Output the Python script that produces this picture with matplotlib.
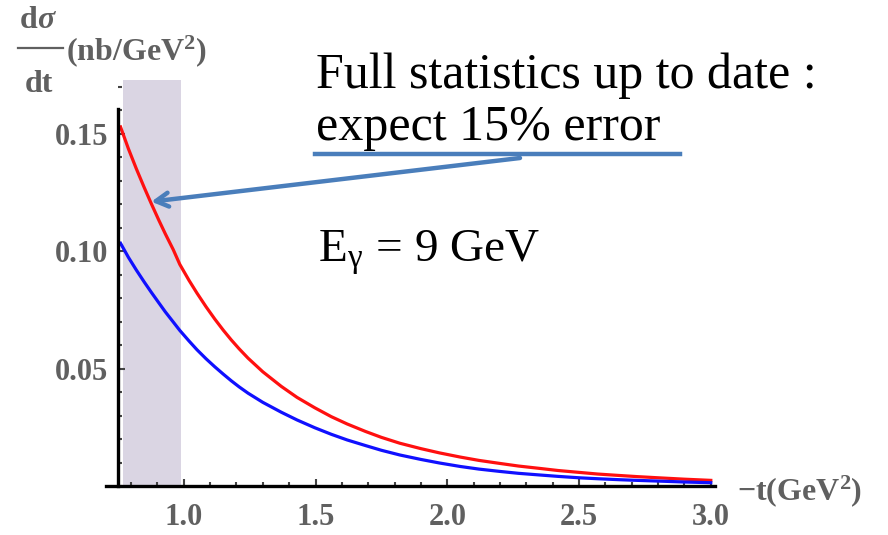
import matplotlib.pyplot as plt
from matplotlib.ticker import MultipleLocator, FixedLocator
from matplotlib.lines import Line2D

plt.rcParams['mathtext.fontset'] = 'custom'
plt.rcParams['mathtext.rm'] = 'Liberation Serif'
plt.rcParams['mathtext.it'] = 'Liberation Serif:italic'
plt.rcParams['mathtext.bf'] = 'Liberation Serif:bold'

# -t (GeV^2) and dsigma/dt (nb/GeV^2) for the two model curves
t_vals = [0.76, 0.79, 0.82, 0.85, 0.877, 0.905, 0.93, 0.96, 0.985, 1.02, 1.05,
          1.085, 1.118, 1.15, 1.18, 1.21, 1.244, 1.3, 1.37, 1.43, 1.497, 1.56,
          1.62, 1.69, 1.75, 1.82, 1.9, 1.97, 2.05, 2.12, 2.2, 2.27, 2.35, 2.42,
          2.5, 2.57, 2.65, 2.72, 2.8, 2.9, 3.0]
sig_red = [0.153, 0.1437, 0.1352, 0.1272, 0.1203, 0.1134, 0.1075, 0.1008, 0.0945, 0.0877, 0.0823,
           0.0764, 0.0712, 0.0665, 0.0624, 0.0586, 0.0546, 0.0488, 0.0426, 0.0379, 0.0335, 0.0297,
           0.0266, 0.0234, 0.0209, 0.0184, 0.0161, 0.0143, 0.0125, 0.0111, 0.0098, 0.0087,
           0.0077, 0.0068, 0.0060, 0.0053, 0.0047, 0.0042, 0.0037, 0.0031, 0.0026]
sig_blue = [0.1035, 0.0975, 0.0921, 0.0870, 0.0826, 0.0782, 0.0743, 0.0700, 0.0664, 0.0619, 0.0582,
            0.0543, 0.0509, 0.0478, 0.0450, 0.0424, 0.0397, 0.0358, 0.0316, 0.0283, 0.0250, 0.0222,
            0.0198, 0.0174, 0.0154, 0.0134, 0.0115, 0.0100, 0.0085, 0.0074, 0.0064, 0.0056,
            0.0049, 0.0043, 0.0037, 0.0033, 0.0029, 0.0026, 0.0023, 0.0019, 0.0016]

# measured -t window
band = [0.768, 0.99]
band_top = 0.173

xticks = [1.0, 1.5, 2.0, 2.5, 3.0]
yticks = [0.05, 0.10, 0.15]

gray = '#606060'
serif = 'Liberation Serif'

fig = plt.figure(figsize=(8.88, 5.35), dpi=100)
ax = fig.add_axes([0.1194, 0.0907, 0.6914, 0.7687])
ax.set_xlim(0.705, 3.035)
ax.set_ylim(0, 0.175)

ax.axvspan(band[0], band[1], ymin=0, ymax=band_top / 0.175, color='#dad5e3', lw=0, zorder=0)
ax.plot(t_vals, sig_red, color='#ff1010', lw=2.3, zorder=3)
ax.plot(t_vals, sig_blue, color='#1010ff', lw=2.3, zorder=3)

for s in ['top', 'right']:
    ax.spines[s].set_visible(False)
ax.spines['left'].set_position(('data', 0.75))
ax.spines['left'].set_bounds(0, 0.1605)
ax.spines['bottom'].set_bounds(0.705, 3.015)
for s in ['left', 'bottom']:
    ax.spines[s].set_linewidth(2.4)
    ax.spines[s].set_zorder(4)

ax.xaxis.set_major_locator(FixedLocator(xticks))
ax.xaxis.set_minor_locator(MultipleLocator(0.1))
ax.yaxis.set_major_locator(FixedLocator(yticks))
ax.yaxis.set_minor_locator(MultipleLocator(0.01))
ax.set_xticklabels(['%.1f' % v for v in xticks])
ax.set_yticklabels(['%.2f' % v for v in yticks])
ax.tick_params(axis='both', which='major', direction='in', length=5, width=1.5, color='#444444')
ax.tick_params(axis='both', which='minor', direction='in', length=3, width=1.5, color='#444444')
ax.tick_params(axis='x', which='major', pad=12)
ax.tick_params(axis='y', which='major', pad=7)
for lab in ax.get_xticklabels() + ax.get_yticklabels():
    lab.set_fontfamily(serif)
    lab.set_fontweight('bold')
    lab.set_fontsize(22)
    lab.set_color(gray)

# axis labels
fig.text(737 / 888, 1 - 500 / 535, r'$\mathbf{-t(GeV^{2})}$', fontsize=23, color=gray,
         va='baseline')
fig.text(20 / 888, 1 - 28 / 535, 'd', family=serif, weight='bold', fontsize=23,
         color=gray, va='baseline')
fig.text(37 / 888, 1 - 28 / 535, '\u03c3', family=serif, weight='bold', style='italic',
         fontsize=23, color=gray, va='baseline')
fig.text(25 / 888, 1 - 92 / 535, 'dt', family=serif, weight='bold', fontsize=23,
         color=gray, va='baseline')
fig.add_artist(Line2D([18 / 888, 63 / 888], [1 - 48 / 535, 1 - 48 / 535], color=gray, lw=1.6))
fig.text(66 / 888, 1 - 60 / 535, r'$\mathbf{(nb/GeV^{2})}$', fontsize=23, color=gray,
         va='baseline')

# annotation text
fig.text(316 / 888, 1 - 88 / 535, 'Full statistics up to date :', family=serif,
         fontsize=36, color='black', va='baseline')
fig.text(316 / 888, 1 - 140 / 535, 'expect 15% error', family=serif,
         fontsize=36, color='black', va='baseline')
fig.add_artist(Line2D([315 / 888, 680 / 888], [1 - 154 / 535, 1 - 154 / 535],
                      color='#4a7ebb', lw=3.2))
fig.text(318 / 888, 1 - 262 / 535, r'$\mathrm{E}_{\mathrm{\gamma}}\,=\,9\ \mathrm{GeV}$',
         fontsize=34, color='black', va='baseline')

ax.annotate('', xy=(0.877, 0.1212), xycoords='data',
            xytext=(520 / 888, 1 - 158 / 535), textcoords='figure fraction',
            arrowprops=dict(arrowstyle='->, head_length=0.9, head_width=0.5',
                            color='#4a7ebb', lw=3.2, shrinkA=0, shrinkB=0),
            zorder=5)

fig.savefig('out.png', dpi=100)
